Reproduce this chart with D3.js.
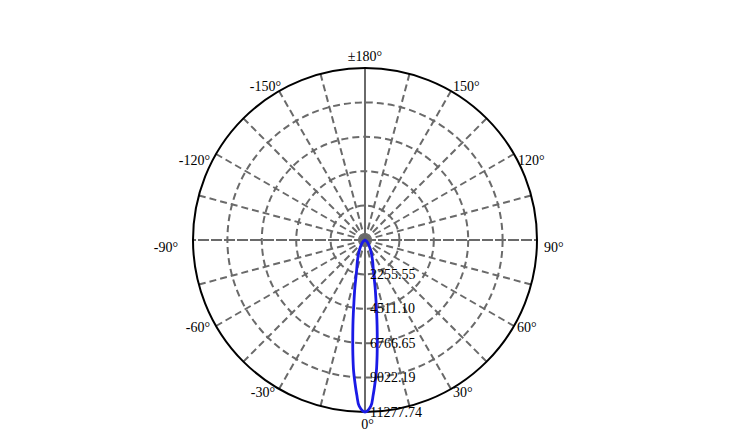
<!DOCTYPE html>
<html>
<head>
<meta charset="utf-8">
<script src="https://cdn.jsdelivr.net/npm/d3@7"></script>
<style>
  html, body { margin: 0; padding: 0; background: #fff; }
  svg { display: block; }
</style>
</head>
<body>
<svg id="chart" width="744" height="445"></svg>
<script>
// ---- data ----
const beamAngles = [0, 2, 3, 4, 5, 6, 7, 8, 9, 10, 12, 15, 20, 25, 30, 40, 50, 60, 70, 80, 90, 120, 150, 180];
const beamIntensity = [11277.74, 10900, 10200, 9400, 8600, 7600, 6600, 5700, 4900, 4200, 3200, 2150, 1450, 1000, 700, 350, 150, 60, 20, 5, 0, 0, 0, 0];
const radialTicks = [2255.55, 4511.10, 6766.65, 9022.19, 11277.74];
const radialTickLabels = ["2255.55", "4511.10", "6766.65", "9022.19", "11277.74"];
const angleTicks = [0, 30, 60, 90, 120, 150, 180, -150, -120, -90, -60, -30];
const angleTickLabels = ["0°", "30°", "60°", "90°", "120°", "150°", "±180°", "-150°", "-120°", "-90°", "-60°", "-30°"];
const gridAngles = d3.range(0, 360, 15);

// ---- layout (label nudges from the circle point, px) ----
const labelDx = [2.5, 2, 3, 7, 4, 2, 0, 2, -6, -15, -6, -4];
const labelDy = [12, 4, 1.5, 7.5, 6, -5, -12, -5, 6, 7.5, 1.5, 4];
const cx = 365, cy = 240, R = 172;
const svg = d3.select("#chart");
const g = svg.append("g").attr("transform", `translate(${cx},${cy})`);
const r = d3.scaleLinear().domain([0, 11277.74]).range([0, R]);
const rad = d => d * Math.PI / 180;
const grid = "#6a6a6a";

// rings
g.selectAll("circle.ring").data(radialTicks.slice(0, -1)).enter().append("circle")
  .attr("class", "ring").attr("r", d => r(d))
  .attr("fill", "none").attr("stroke", grid).attr("stroke-width", 2)
  .attr("stroke-dasharray", "7,4");

// spokes
g.selectAll("line.spoke").data(gridAngles).enter().append("line")
  .attr("class", "spoke")
  .attr("x1", 0).attr("y1", 0)
  .attr("x2", d => R * Math.sin(rad(d)))
  .attr("y2", d => R * Math.cos(rad(d)))
  .attr("stroke", grid).attr("stroke-width", 2)
  .attr("stroke-dasharray", d => (d % 180 === 0) ? null : (d % 90 === 0 ? "11,2" : "7,4"));

// outer circle
g.append("circle").attr("r", R).attr("fill", "none").attr("stroke", "#000").attr("stroke-width", 2);

// curve
const pts = [];
beamAngles.forEach((a, i) => pts.push([a, beamIntensity[i]]));
const full = pts.filter(p => p[0] !== 0 && p[0] !== 180).map(p => [-p[0], p[1]]);
const series = full.concat(pts);
series.sort((a, b) => a[0] - b[0]);
const line = d3.lineRadial()
  .angle(d => Math.PI - rad(d[0]))
  .radius(d => r(d[1]))
  .curve(d3.curveCatmullRomClosed);
g.append("path").datum(series)
  .attr("d", line)
  .attr("fill", "none").attr("stroke", "#1a1ae6").attr("stroke-width", 2.8)
  .attr("stroke-linejoin", "round");

// radial labels
g.selectAll("text.rl").data(radialTicks).enter().append("text")
  .attr("class", "rl")
  .attr("x", 5).attr("y", d => r(d))
  .attr("dominant-baseline", "central")
  .attr("font-family", "'Liberation Serif', 'Times New Roman', serif")
  .attr("font-size", 14).attr("fill", "#000")
  .text((d, i) => radialTickLabels[i]);

// angle labels
g.selectAll("text.al").data(angleTicks).enter().append("text")
  .attr("class", "al")
  .attr("x", (d, i) => R * Math.sin(rad(d)) + labelDx[i])
  .attr("y", (d, i) => R * Math.cos(rad(d)) + labelDy[i])
  .attr("text-anchor", d => {
    const s = Math.sin(rad(d));
    return s > 0.01 ? "start" : (s < -0.01 ? "end" : "middle");
  })
  .attr("dominant-baseline", "central")
  .attr("font-family", "'Liberation Serif', 'Times New Roman', serif")
  .attr("font-size", 14).attr("fill", "#000")
  .text((d, i) => angleTickLabels[i]);
</script>
</body>
</html>
